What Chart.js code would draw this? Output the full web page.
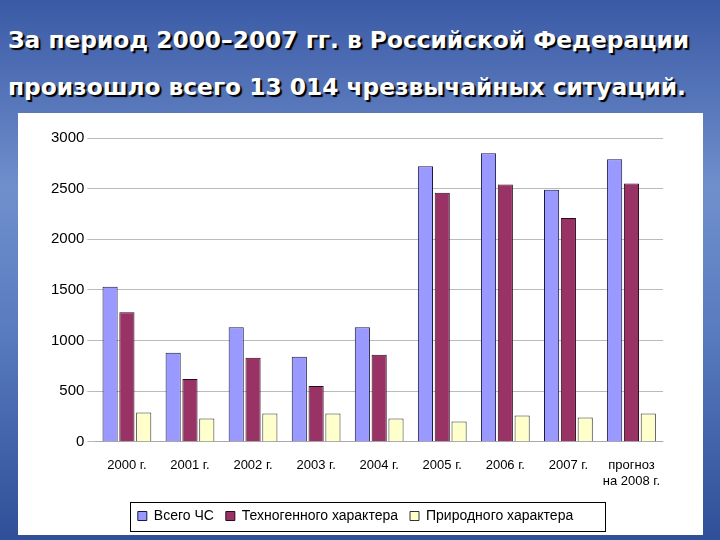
<!DOCTYPE html>
<html><head><meta charset="utf-8">
<script src="https://cdn.jsdelivr.net/npm/chart.js@4"></script>
<style>
body{margin:0;width:720px;height:540px;overflow:hidden;background:linear-gradient(180deg,#3b5aa6 0%,#6f8fcc 35%,#5a7cc0 60%,#2f4f98 100%);font-family:"DejaVu Sans",sans-serif;}
.t{position:absolute;left:8px;white-space:nowrap;color:#fff;font-weight:bold;font-size:23.3px;text-shadow:2px 2px 1px #000;}
#box{position:absolute;left:18px;top:113px;width:685px;height:422px;background:#fff;}
#lg{position:absolute;left:112px;top:389px;width:474px;height:28px;border:1px solid #000;}
</style></head><body>
<div class="t" style="top:26px">За период 2000–2007 гг. в Российской Федерации</div>
<div class="t" style="top:73px">произошло всего 13 014 чрезвычайных ситуаций.</div>
<div id="box"><canvas id="c" width="685" height="422"></canvas><div id="lg"></div></div>
<script>
const categories=["2000 г.","2001 г.","2002 г.","2003 г.","2004 г.","2005 г.","2006 г.","2007 г.",["прогноз","на 2008 г."]];
const total=[1530,880,1130,840,1130,2720,2850,2490,2790];
const techno=[1280,620,830,550,860,2460,2540,2210,2550];
const natural=[290,230,280,280,230,200,260,240,280];
const seriesNames=["Всего ЧС","Техногенного характера","Природного характера"];
new Chart(document.getElementById('c'),{type:'bar',
data:{labels:categories,datasets:[
{label:seriesNames[0],data:total,backgroundColor:'#9999ff',borderColor:'#1a1a40',borderWidth:1},
{label:seriesNames[1],data:techno,backgroundColor:'#993366',borderColor:'#2a0a18',borderWidth:1},
{label:seriesNames[2],data:natural,backgroundColor:'#ffffcc',borderColor:'#333',borderWidth:1}]},
options:{responsive:false,animation:false,layout:{padding:{left:30,right:40,top:25,bottom:2}},
plugins:{legend:{position:'bottom',labels:{boxWidth:9,boxHeight:9,font:{family:'Liberation Sans',size:14},color:'#000',padding:12}}},
scales:{y:{min:0,max:3000,ticks:{stepSize:500,color:'#000',font:{family:'Liberation Sans',size:15},callback:v=>String(v)},grid:{color:'#bbb'},border:{display:false}},
x:{ticks:{color:'#000',font:{family:'Liberation Sans',size:13},maxRotation:0,padding:8},grid:{display:false},categoryPercentage:0.75,barPercentage:0.85}}}});
</script></body></html>
